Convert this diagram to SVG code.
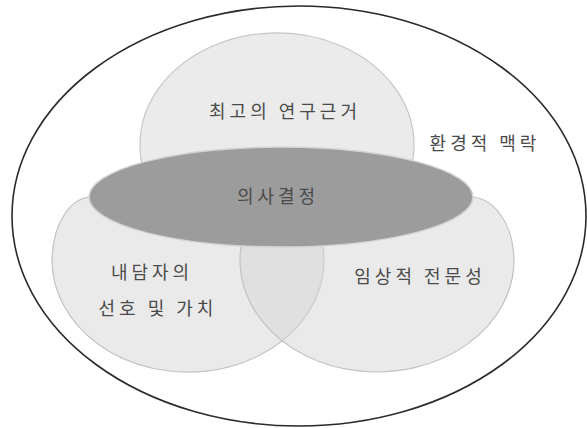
<svg xmlns="http://www.w3.org/2000/svg" width="587" height="428" viewBox="0 0 587 428">
<style>
.lbl{font-family:"Noto Sans CJK KR","Noto Sans",sans-serif;font-size:18px;fill:#4a4a4a;text-anchor:middle;letter-spacing:4px}
.soft{fill:#d6d6d6;fill-opacity:0.5;stroke:#c2c2c2;stroke-width:1.2}
</style>
<rect width="587" height="428" fill="#ffffff"/>
<g id="environment">
<ellipse cx="299" cy="216" rx="287" ry="210" fill="none" stroke="#2a2a2a" stroke-width="1.6"/>
<text class="lbl" x="485" y="150">환경적 맥락</text>
</g>
<g id="evidence">
<path d="M157.7,200 A137,112 0 1 1 396.3,200 Z" fill="#ebebeb" stroke="#c6c6c6" stroke-width="1.2"/>
<text class="lbl" x="285" y="118">최고의 연구근거</text>
</g>
<g id="client">
<path class="soft" d="M89,197 C72,199 53,220 52,260 A136,112 0 1 0 319,230 Z"/>
</g>
<g id="clinical">
<path class="soft" d="M473,197 C492,199 513,220 514,260 A137,112 0 1 1 245,230 Z"/>
</g>
<g id="labels-lower">
<text class="lbl" x="152" y="279">내담자의</text>
<text class="lbl" x="158" y="315">선호 및 가치</text>
<text class="lbl" x="420" y="283">임상적 전문성</text>
</g>
<g id="decision">
<ellipse cx="281" cy="197" rx="192" ry="50" fill="#9c9c9c" stroke="#d4d4d4" stroke-width="1.5"/>
<text class="lbl" x="278" y="203">의사결정</text>
</g>
</svg>
